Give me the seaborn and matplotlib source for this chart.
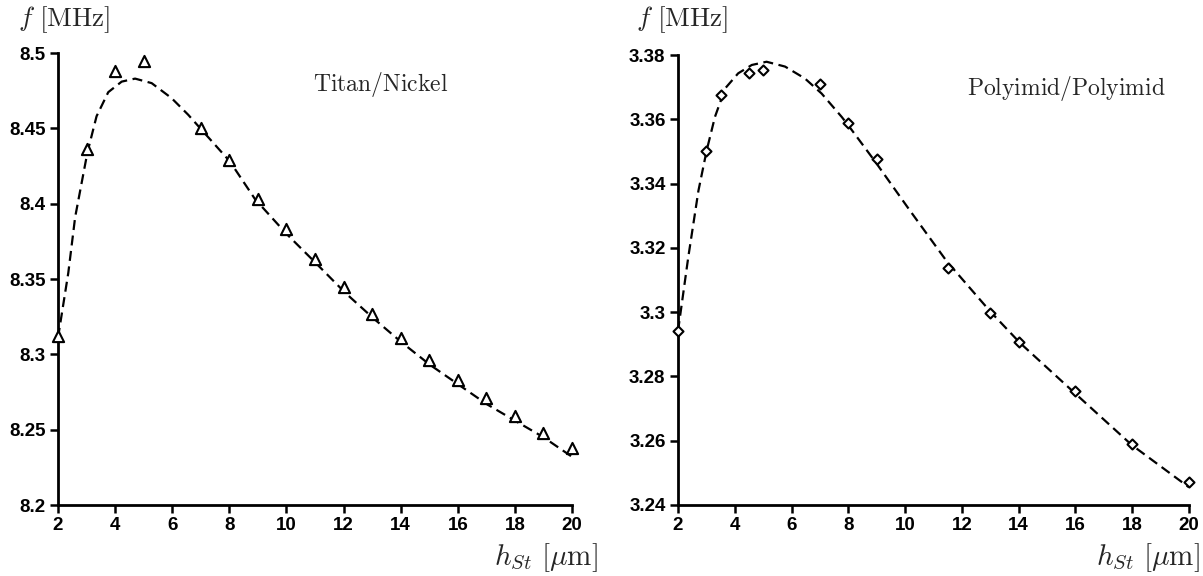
import numpy as np
import pandas as pd
import matplotlib
matplotlib.use("Agg")
import matplotlib.pyplot as plt
import seaborn as sns
from matplotlib.ticker import FuncFormatter

# ---------------- data ----------------
# Titan/Nickel measured points (triangles)
tn_x = [2, 3, 4, 5, 7, 8, 9, 10, 11, 12, 13, 14, 15, 16, 17, 18, 19, 20]
tn_y = [8.312, 8.436, 8.488, 8.495, 8.450, 8.429, 8.403, 8.383, 8.363, 8.345,
        8.327, 8.311, 8.296, 8.283, 8.271, 8.259, 8.248, 8.238]
# Titan/Nickel fitted curve (dashed)
tn_cx = [2.0, 2.36, 2.6, 3.03, 3.35, 3.76, 4.23, 4.7, 5.28, 5.98, 6.56, 7.03, 8.02,
         8.9, 10.0, 11.06, 12.05, 13.04, 14.03, 15.03, 16.02, 17.01, 18.0, 19.0, 20.0]
tn_cy = [8.311, 8.354, 8.391, 8.434, 8.458, 8.474, 8.481, 8.483, 8.480, 8.470,
         8.459, 8.449, 8.428, 8.403, 8.380, 8.360, 8.341, 8.324, 8.308, 8.293,
         8.280, 8.267, 8.256, 8.245, 8.232]

# Polyimid/Polyimid measured points (diamonds)
pp_x = [2, 3, 3.5, 4.5, 5, 7, 8, 9, 11.5, 13, 14, 16, 18, 20]
pp_y = [3.294, 3.350, 3.3677, 3.3745, 3.3753, 3.3709, 3.3588, 3.3475, 3.3137,
        3.2996, 3.2907, 3.2756, 3.2589, 3.2472]
# Polyimid/Polyimid fitted curve (dashed)
pp_cx = [2.0, 2.36, 2.72, 3.01, 3.3, 3.66, 4.12, 4.6, 5.12, 5.77, 6.47, 7.06, 7.77,
         8.0, 8.94, 10.17, 11.46, 12.99, 14.05, 16.04, 17.98, 20.0]
pp_cy = [3.2941, 3.317, 3.3378, 3.3503, 3.3607, 3.3696, 3.3743, 3.3769, 3.3779,
         3.3764, 3.3727, 3.368, 3.3607, 3.3581, 3.3469, 3.3316, 3.3159, 3.3003,
         3.2904, 3.2743, 3.2587, 3.2455]

left_yticks = [8.2, 8.25, 8.3, 8.35, 8.4, 8.45, 8.5]
right_yticks = [3.24, 3.26, 3.28, 3.3, 3.32, 3.34, 3.36, 3.38]
xticks = [2, 4, 6, 8, 10, 12, 14, 16, 18, 20]

# ---------------- style ----------------
sns.set_style("ticks")
plt.rcParams["font.family"] = ["Liberation Sans", "DejaVu Sans"]
plt.rcParams["mathtext.fontset"] = "cm"

W, H = 1203, 576
fig = plt.figure(figsize=(W / 100, H / 100), dpi=100)

def px_axes(l, r, t, b):
    return fig.add_axes([l / W, 1 - b / H, (r - l) / W, (b - t) / H])

ax1 = px_axes(58, 572, 53, 505)
ax2 = px_axes(678, 1189, 55, 505)

fmt = FuncFormatter(lambda v, p: ("%g" % round(v, 3)))

def draw(ax, cx, cy, px, py, marker, ms, ylim, yticks):
    sns.lineplot(x=cx, y=cy, ax=ax, color="black", lw=1.6, sort=False,
                 dashes=False, linestyle=(0, (4.5, 2.5)))
    sns.scatterplot(x=px, y=py, ax=ax, marker=marker, s=ms, facecolor="white",
                    edgecolor="black", linewidth=1.5, zorder=3)
    ax.set_xlim(2, 20)
    ax.set_ylim(*ylim)
    ax.set_xticks(xticks)
    ax.set_yticks(yticks)
    ax.yaxis.set_major_formatter(fmt)
    ax.xaxis.set_major_formatter(fmt)
    for s in ["top", "right"]:
        ax.spines[s].set_visible(False)
    for s in ["left", "bottom"]:
        ax.spines[s].set_linewidth(2.0)
        ax.spines[s].set_color("black")
    ax.tick_params(axis="both", direction="out", length=6, width=1.8,
                   labelsize=13.5, pad=3, colors="black")
    for lab in ax.get_xticklabels() + ax.get_yticklabels():
        lab.set_fontweight("bold")
    ax.set_xlabel("")
    ax.set_ylabel("")
    for c in ax.collections + ax.lines:
        c.set_clip_on(False)

draw(ax1, tn_cx, tn_cy, tn_x, tn_y, "^", 65, (8.2, 8.5), left_yticks)
draw(ax2, pp_cx, pp_cy, pp_x, pp_y, "D", 26, (3.24, 3.38), right_yticks)

ax1.text(10.93, 8.479, r"$\mathrm{Titan/Nickel}$", fontsize=17,
         va="center", ha="left")
ax2.text(12.18, 3.3697, r"$\mathrm{Polyimid/Polyimid}$", fontsize=17,
         va="center", ha="left")

fig.text(18 / W, 1 - 20 / H, r"$f\ [\mathrm{MHz}]$", fontsize=19.5, va="center", ha="left")
fig.text(636 / W, 1 - 20 / H, r"$f\ [\mathrm{MHz}]$", fontsize=19.5, va="center", ha="left")
fig.text(598 / W, 1 - 558 / H, r"$h_{St}\ [\mu\mathrm{m}]$", fontsize=21, va="center", ha="right")
fig.text(1200 / W, 1 - 558 / H, r"$h_{St}\ [\mu\mathrm{m}]$", fontsize=21, va="center", ha="right")

fig.savefig("out.png", dpi=100, facecolor="white")
